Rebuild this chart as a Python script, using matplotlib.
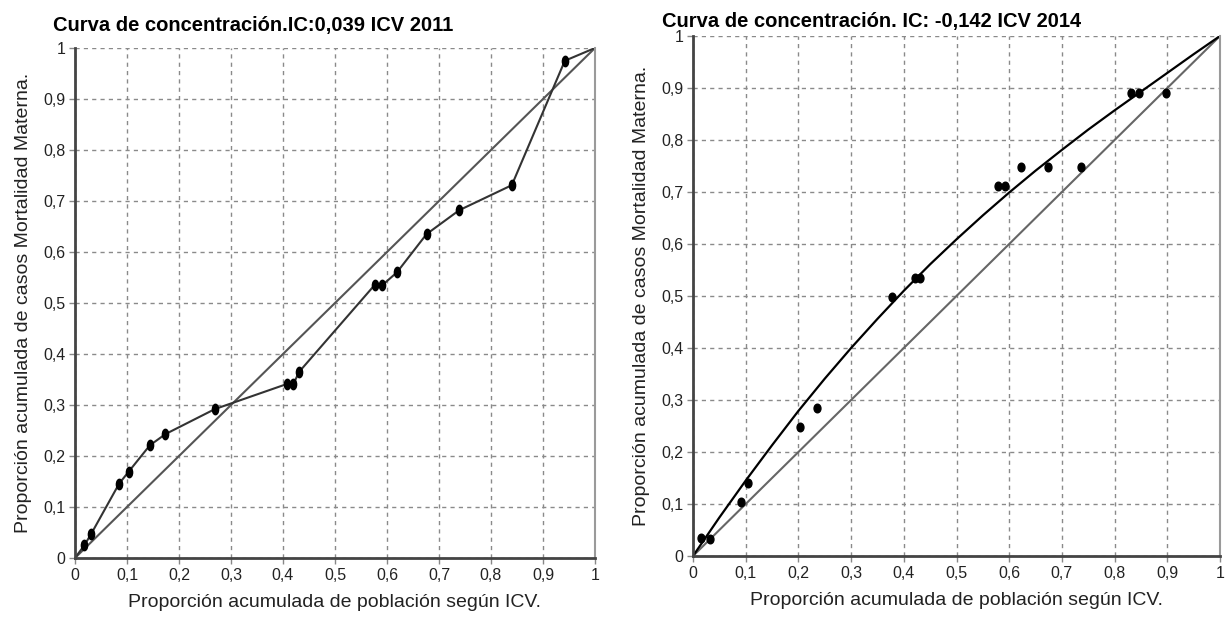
import matplotlib
matplotlib.use('Agg')
import matplotlib.pyplot as plt
from matplotlib.markers import MarkerStyle
from matplotlib.transforms import Affine2D

plt.rcParams['font.family'] = ['Liberation Sans', 'DejaVu Sans']

# 2011: cumulative population share vs cumulative share of cases
x_2011 = [0, 0.018, 0.031, 0.085, 0.103, 0.144, 0.174, 0.269, 0.407, 0.420, 0.431,
          0.576, 0.591, 0.619, 0.676, 0.739, 0.840, 0.942, 1.0]
y_2011 = [0, 0.025, 0.047, 0.146, 0.169, 0.221, 0.243, 0.292, 0.341, 0.341, 0.365,
          0.535, 0.535, 0.560, 0.635, 0.682, 0.731, 0.975, 1.0]

# 2014: observed points
x_2014 = [0.015, 0.032, 0.091, 0.105, 0.203, 0.235, 0.377, 0.421, 0.431, 0.578,
          0.592, 0.622, 0.674, 0.736, 0.832, 0.847, 0.897]
y_2014 = [0.034, 0.033, 0.104, 0.141, 0.249, 0.284, 0.499, 0.534, 0.534, 0.712,
          0.712, 0.749, 0.749, 0.749, 0.890, 0.890, 0.890]

# 2014: fitted concentration curve
curve_x = [0, 0.05, 0.1, 0.15, 0.2, 0.25, 0.3, 0.35, 0.4, 0.45, 0.5,
           0.55, 0.6, 0.65, 0.7, 0.75, 0.8, 0.85, 0.9, 0.95, 1.0]
curve_y = [0, 0.074, 0.145, 0.213, 0.279, 0.341, 0.400, 0.456, 0.510, 0.561, 0.609,
           0.655, 0.699, 0.741, 0.781, 0.820, 0.857, 0.893, 0.929, 0.965, 1.0]

diag = [0, 1]
ticks = [0, 0.1, 0.2, 0.3, 0.4, 0.5, 0.6, 0.7, 0.8, 0.9, 1.0]
tick_labels = ['0', '0,1', '0,2', '0,3', '0,4', '0,5', '0,6', '0,7', '0,8', '0,9', '1']

titles = ['Curva de concentración.IC:0,039 ICV 2011',
          'Curva de concentración. IC: -0,142 ICV 2014']
xlabel = 'Proporción acumulada de población según ICV.'
ylabel = 'Proporción acumulada de casos Mortalidad Materna.'

W, H = 1227, 618
fig = plt.figure(figsize=(W / 100, H / 100), dpi=100)
ax1 = fig.add_axes([75 / W, 1 - 558 / H, 520 / W, 510 / H])
ax2 = fig.add_axes([693 / W, 1 - 556 / H, 527 / W, 520 / H])


def style(ax):
    ax.set_xlim(0, 1)
    ax.set_ylim(0, 1)
    ax.set_xticks(ticks)
    ax.set_yticks(ticks)
    ax.set_xticklabels(tick_labels, fontsize=11.5)
    ax.set_yticklabels(tick_labels, fontsize=11.5)
    ax.grid(True, color='#8a8a8a', linestyle=(0, (3, 3)), linewidth=1)
    ax.set_axisbelow(True)
    ax.tick_params(length=4, width=1, color='#888888', pad=3, labelcolor='#222222')
    for s in ['left', 'bottom']:
        ax.spines[s].set_color('#444444')
        ax.spines[s].set_linewidth(2)
    ax.spines['top'].set_visible(False)
    ax.spines['right'].set_color('#9a9a9a')
    ax.spines['right'].set_linewidth(1.5)
    ax.set_xlabel(xlabel, fontsize=14, color='#222222', labelpad=8)
    ax.set_ylabel(ylabel, fontsize=14, color='#222222', labelpad=8)


style(ax1)
style(ax2)

m1 = MarkerStyle('o', transform=Affine2D().scale(0.6, 1.0))
ax1.plot(diag, diag, color='#555555', linewidth=1.5)
ax1.plot(x_2011, y_2011, color='#333333', linewidth=1.5)
ax1.plot(x_2011[1:-1], y_2011[1:-1], linestyle='none', marker=m1, markersize=7.5,
         color='black')

m2 = MarkerStyle('o', transform=Affine2D().scale(0.8, 1.0))
ax2.plot(diag, diag, color='#666666', linewidth=1.5)
ax2.plot(curve_x, curve_y, color='black', linewidth=1.6)
ax2.plot(x_2014, y_2014, linestyle='none', marker=m2, markersize=6.2, color='black')

fig.text(53 / W, 1 - 26 / H, titles[0], fontsize=14.5, fontweight='bold', va='center', ha='left')
fig.text(662 / W, 1 - 22 / H, titles[1], fontsize=14.5, fontweight='bold', va='center', ha='left')

fig.savefig('out.png', dpi=100)
